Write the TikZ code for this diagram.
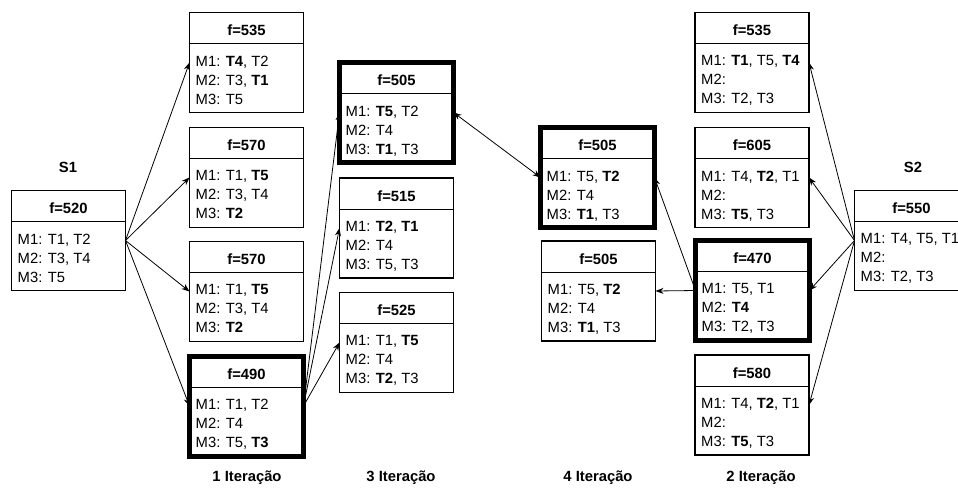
\documentclass[tikz,border=0pt]{standalone}
\usepackage{fontspec}
\setmainfont{Liberation Sans}
\usetikzlibrary{arrows.meta}

\tikzset{
  solbox/.style={draw, line width=1.6pt, minimum width=114pt, minimum height=100pt,
    inner sep=0pt, outer sep=0pt},
  best/.style={line width=5pt},
  hdr/.style={font=\bfseries\fontsize{14.8}{19}\selectfont, inner sep=0pt},
  body/.style={anchor=north west, align=left, inner sep=0pt,
    font=\fontsize{14.8}{19}\selectfont},
  divline/.style={line width=1pt},
  link/.style={-{Stealth[length=8pt,width=6pt]}, line width=0.8pt},
  lbl/.style={font=\bfseries\fontsize{14.8}{19}\selectfont}
}

% one solution: [style] name, position, f value, machine lines
\newcommand{\solbox}[5][]{%
  \node[solbox,#1] (#2) at (#3) {};
  \node[hdr] (#2h) at ([yshift=-18pt]#2.north) {f=#4};
  \draw[divline] ([yshift=-31pt]#2.north west) -- ([yshift=-31pt]#2.north east);
  \node[body] (#2b) at ([xshift=6pt,yshift=-43pt]#2.north west) {#5};
}

\begin{document}
\begin{tikzpicture}[x=1pt,y=-1pt]
\useasboundingbox (0,0) rectangle (958,488);

% starting solutions
\node[lbl] (s1l) at (68,167) {S1};
\solbox{s1}{68.5,240.5}{520}{M1: T1, T2\\M2: T3, T4\\M3: T5}
\node[lbl] (s2l) at (913,167) {S2};
\solbox{s2}{911.5,240.5}{550}{M1: T4, T5, T1\\M2:\\M3: T2, T3}

% 1 iteracao
\solbox{a1}{246.5,62.5}{535}{M1: \textbf{T4}, T2\\M2: T3, \textbf{T1}\\M3: T5}
\solbox{a2}{246.5,177.5}{570}{M1: T1, \textbf{T5}\\M2: T3, T4\\M3: \textbf{T2}}
\solbox{a3}{246.5,291.5}{570}{M1: T1, \textbf{T5}\\M2: T3, T4\\M3: \textbf{T2}}
\solbox[best]{a4}{246.5,406}{490}{M1: T1, T2\\M2: T4\\M3: T5, \textbf{T3}}

% 3 iteracao
\solbox[best]{c1}{396.5,112.5}{505}{M1: \textbf{T5}, T2\\M2: T4\\M3: \textbf{T1}, T3}
\solbox{c2}{396.5,228}{515}{M1: \textbf{T2}, \textbf{T1}\\M2: T4\\M3: T5, T3}
\solbox{c3}{396.5,342.5}{525}{M1: T1, \textbf{T5}\\M2: T4\\M3: \textbf{T2}, T3}

% 4 iteracao
\solbox[best]{d1}{597.5,177.5}{505}{M1: T5, \textbf{T2}\\M2: T4\\M3: \textbf{T1}, T3}
\solbox{d2}{598.5,291}{505}{M1: T5, \textbf{T2}\\M2: T4\\M3: \textbf{T1}, T3}

% 2 iteracao
\solbox{b1}{752,62.5}{535}{M1: \textbf{T1}, T5, \textbf{T4}\\M2:\\M3: T2, T3}
\solbox{b2}{752,177.5}{605}{M1: T4, \textbf{T2}, T1\\M2:\\M3: \textbf{T5}, T3}
\solbox[best]{b3}{752.5,290.5}{470}{M1: T5, T1\\M2: \textbf{T4}\\M3: T2, T3}
\solbox{b4}{752,405}{580}{M1: T4, \textbf{T2}, T1\\M2:\\M3: \textbf{T5}, T3}

% neighbourhood moves
\foreach \t in {a1,a2,a3,a4}
  \draw[link] (s1.east) -- (\t.west);
\foreach \t in {c1,c2,c3}
  \draw[link] (a4.east) -- (\t.west);
\foreach \t in {b1,b2,b3,b4}
  \draw[link] (s2.west) -- (\t.east);
\draw[link] (b3.west) -- (d1.east);
\draw[link] (b3.west) -- (d2.east);
\draw[link,{Stealth[length=8pt,width=6pt]}-{Stealth[length=8pt,width=6pt]}] (c1.east) -- (d1.west);

% column captions
\node[lbl] (it1) at (247,478) {1 Iteração};
\node[lbl] (it3) at (401,478) {3 Iteração};
\node[lbl] (it4) at (598,478) {4 Iteração};
\node[lbl] (it2) at (761,478) {2 Iteração};
\end{tikzpicture}
\end{document}
